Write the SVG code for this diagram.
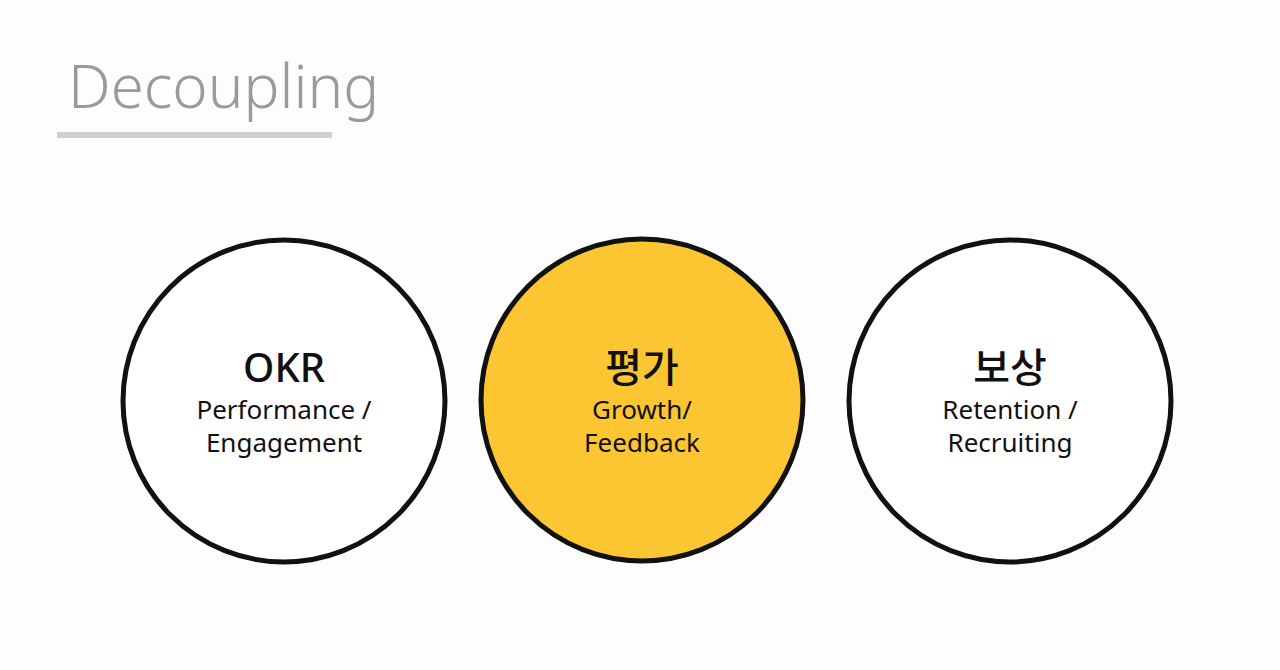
<svg xmlns="http://www.w3.org/2000/svg" width="1280" height="670" viewBox="0 0 1280 670">
<style>
.c{stroke:#111;stroke-width:5}
.h{font-family:"Noto Sans","Noto Sans CJK KR",sans-serif;font-size:40px;font-weight:500;fill:#111;text-anchor:middle}
.s{font-family:"Noto Sans","Noto Sans CJK KR",sans-serif;font-size:26px;fill:#111;text-anchor:middle}
</style>
<rect width="1280" height="670" fill="#fdfdfd"/>
<g id="title">
<text x="68" y="108" font-family="'Noto Sans',sans-serif" font-size="60" font-weight="300" fill="#9a9a9a">Decoupling</text>
<rect x="57" y="132" width="275" height="6" fill="#cfcfcf"/>
</g>
<g id="okr"><circle class="c" cx="284" cy="401" r="161" fill="#fff"/>
<text class="h" x="284" y="382">OKR</text><text class="s" x="284" y="419">Performance /</text><text class="s" x="284" y="452">Engagement</text></g>
<g id="eval"><circle class="c" cx="642" cy="400" r="161" fill="#fcc532"/>
<text class="h" x="642" y="382">평가</text><text class="s" x="642" y="419">Growth/</text><text class="s" x="642" y="452">Feedback</text></g>
<g id="comp"><circle class="c" cx="1010" cy="401" r="161" fill="#fff"/>
<text class="h" x="1010" y="382">보상</text><text class="s" x="1010" y="419">Retention /</text><text class="s" x="1010" y="452">Recruiting</text></g>
<g id="connectors"/>
</svg>
